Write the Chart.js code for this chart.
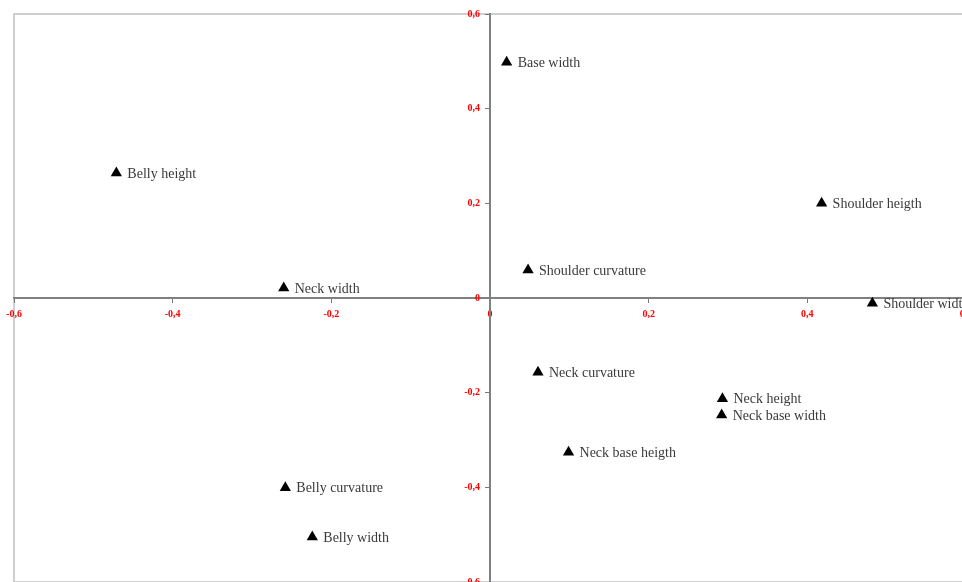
<!DOCTYPE html>
<html>
<head>
<meta charset="utf-8">
<title>Shape variables</title>
<script src="https://cdn.jsdelivr.net/npm/chart.js@4/dist/chart.umd.min.js"></script>
<style>
  html, body { margin: 0; padding: 0; background: #fff; overflow: hidden; }
  #wrap { position: absolute; left: 0; top: 0; }
</style>
</head>
<body>
<div id="wrap"><canvas id="varsChart" width="1000" height="620"></canvas></div>
<script>
// variable names and their coordinates on the first two factors
const varNames = [
  'Base width', 'Belly height', 'Shoulder heigth', 'Shoulder curvature',
  'Neck width', 'Shoulder width', 'Neck curvature', 'Neck height',
  'Neck base width', 'Neck base heigth', 'Belly curvature', 'Belly width'
];
const factor1 = [0.021, -0.471, 0.418, 0.048, -0.26, 0.482, 0.0605, 0.293, 0.292, 0.099, -0.258, -0.224];
const factor2 = [0.498, 0.264, 0.20, 0.059, 0.021, -0.011, -0.157, -0.213, -0.247, -0.326, -0.401, -0.505];

const axisMin = -0.6;
const axisMax = 0.6;
const axisStep = 0.2;

// comma decimal separator on the ticks
function tickText(v) {
  const r = Math.round(v * 10) / 10;
  if (r === 0) return '0';
  return r.toFixed(1).replace('.', ',');
}

// y labels sit right on the axis line when it is centred, so keep a gap
function yTickText(v) {
  return tickText(v) + '\u2003';
}

// light frame along the plot edges
const framePlugin = {
  id: 'frame',
  beforeDraw(chart) {
    const { ctx, chartArea: a } = chart;
    ctx.save();
    ctx.strokeStyle = '#c4c4c4';
    ctx.lineWidth = 1.6;
    ctx.strokeRect(a.left, a.top, a.right - a.left, a.bottom - a.top);
    ctx.restore();
  }
};

// name written to the right of each marker
const namesPlugin = {
  id: 'pointNames',
  afterDatasetsDraw(chart) {
    const { ctx } = chart;
    const meta = chart.getDatasetMeta(0);
    ctx.save();
    ctx.font = '14px "Liberation Serif", "DejaVu Serif", serif';
    ctx.fillStyle = '#3a3a3a';
    ctx.textAlign = 'left';
    ctx.textBaseline = 'middle';
    meta.data.forEach((pt, i) => {
      ctx.fillText(varNames[i], pt.x + 11, pt.y + 1);
    });
    ctx.restore();
  }
};

const tickFont = { family: '"Liberation Serif", "DejaVu Serif", serif', size: 10, weight: 'bold' };

new Chart(document.getElementById('varsChart'), {
  type: 'scatter',
  data: {
    datasets: [{
      data: factor1.map((x, i) => ({ x: x, y: factor2[i] })),
      pointStyle: 'triangle',
      pointRadius: 6.5,
      pointHoverRadius: 6.5,
      backgroundColor: '#000',
      borderColor: '#000',
      borderWidth: 0
    }]
  },
  options: {
    responsive: false,
    animation: false,
    layout: { padding: { left: 14, top: 14, right: 34, bottom: 38 } },
    plugins: { legend: { display: false }, tooltip: { enabled: false } },
    scales: {
      x: {
        type: 'linear',
        position: { y: 0 },
        min: axisMin,
        max: axisMax,
        grid: { drawOnChartArea: false, drawTicks: true, tickLength: 4, tickColor: '#777' },
        border: { display: true, color: '#808080', width: 2 },
        ticks: {
          stepSize: axisStep,
          padding: 6,
          color: '#ff0000',
          font: tickFont,
          maxRotation: 0,
          autoSkip: false,
          callback: tickText
        }
      },
      y: {
        type: 'linear',
        position: { x: 0 },
        min: axisMin,
        max: axisMax,
        grid: { drawOnChartArea: false, drawTicks: true, tickLength: 4, tickColor: '#777' },
        border: { display: true, color: '#808080', width: 2 },
        ticks: {
          stepSize: axisStep,
          padding: 4,
          color: '#ff0000',
          font: tickFont,
          autoSkip: false,
          callback: yTickText
        }
      }
    }
  },
  plugins: [framePlugin, namesPlugin]
});
</script>
</body>
</html>
